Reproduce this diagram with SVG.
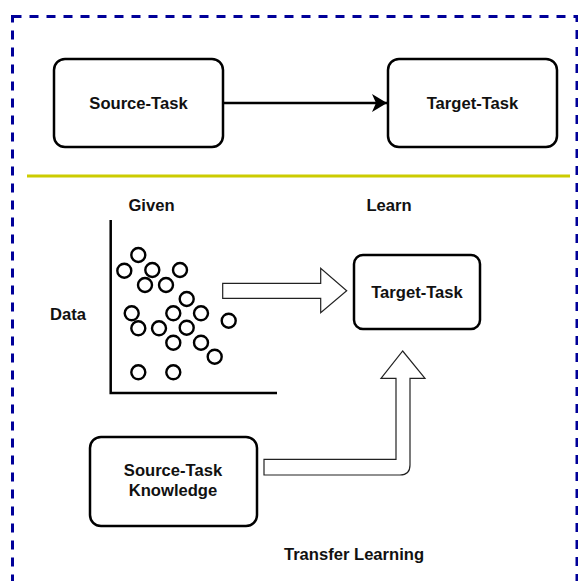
<svg xmlns="http://www.w3.org/2000/svg" width="578" height="581" viewBox="0 0 578 581">
<style>
.box{fill:#fff;stroke:#000;stroke-width:2.5}
.t{font-family:"Liberation Sans",Arial,sans-serif;font-weight:bold;font-size:16.6px;fill:#111;text-anchor:middle;dominant-baseline:central}
.dot{fill:none;stroke:#000;stroke-width:2.4}
.blk{fill:#fff;stroke:#222;stroke-width:1.2;stroke-linejoin:miter}
</style>
<defs>
<marker id="ah" markerWidth="16" markerHeight="20" viewBox="0 0 16 20" refX="15" refY="10" orient="auto" markerUnits="userSpaceOnUse">
<path d="M0,1 L15,10 L0,19 L4,10 Z" fill="#000"/>
</marker>
</defs>
<rect x="12.5" y="16.5" width="564.5" height="620" fill="none" stroke="#000099" stroke-width="3" stroke-dasharray="9 8"/>
<line x1="27" y1="176" x2="570" y2="176" stroke="#cccc00" stroke-width="3"/>
<g id="connectors">
<line x1="223" y1="103" x2="387" y2="103" stroke="#000" stroke-width="2.5" marker-end="url(#ah)"/>
<path class="blk" d="M222.7,283.3 H320.7 V268.3 L346.7,290.7 L320.7,312.7 V298.3 H222.7 Z"/>
<path class="blk" d="M264,459.3 H396 V378.3 H381 L402.7,351 L425,378.3 H410 V465 Q410,475 400,475 H264 Z"/>
</g>
<g id="source-task">
<rect class="box" x="54" y="59" width="169" height="88" rx="11"/>
<text class="t" x="138.5" y="103">Source-Task</text>
</g>
<g id="target-task">
<rect class="box" x="388" y="59" width="169" height="88" rx="11"/>
<text class="t" x="472.5" y="103">Target-Task</text>
</g>
<g id="labels">
<text class="t" x="151.5" y="205">Given</text>
<text class="t" x="389" y="205">Learn</text>
<text class="t" x="68" y="314">Data</text>
<text class="t" x="354" y="554">Transfer Learning</text>
</g>
<g id="data-plot">
<path d="M110.7,220 V393 H277" fill="none" stroke="#000" stroke-width="2.5"/>
<circle class="dot" cx="138.3" cy="255" r="7"/>
<circle class="dot" cx="124.3" cy="270.7" r="7"/>
<circle class="dot" cx="152.3" cy="270" r="7"/>
<circle class="dot" cx="180" cy="270" r="7"/>
<circle class="dot" cx="145" cy="285" r="7"/>
<circle class="dot" cx="166" cy="285" r="7"/>
<circle class="dot" cx="186.7" cy="299" r="7"/>
<circle class="dot" cx="131.7" cy="313.3" r="7"/>
<circle class="dot" cx="173.3" cy="313.3" r="7"/>
<circle class="dot" cx="201" cy="313.3" r="7"/>
<circle class="dot" cx="228.7" cy="320.7" r="7"/>
<circle class="dot" cx="138.3" cy="328.3" r="7"/>
<circle class="dot" cx="159" cy="328.3" r="7"/>
<circle class="dot" cx="186.7" cy="327.7" r="7"/>
<circle class="dot" cx="173.3" cy="342.7" r="7"/>
<circle class="dot" cx="201" cy="342.7" r="7"/>
<circle class="dot" cx="214.7" cy="356.7" r="7"/>
<circle class="dot" cx="138.3" cy="372.3" r="7"/>
<circle class="dot" cx="173.3" cy="372.3" r="7"/>
</g>
<g id="target-task-2">
<rect class="box" x="354" y="255" width="126" height="74" rx="9"/>
<text class="t" x="417" y="292">Target-Task</text>
</g>
<g id="source-task-knowledge">
<rect class="box" x="90" y="437" width="167" height="89" rx="11"/>
<text class="t" x="173" y="470.5">Source-Task</text>
<text class="t" x="173" y="490.5">Knowledge</text>
</g>
</svg>
